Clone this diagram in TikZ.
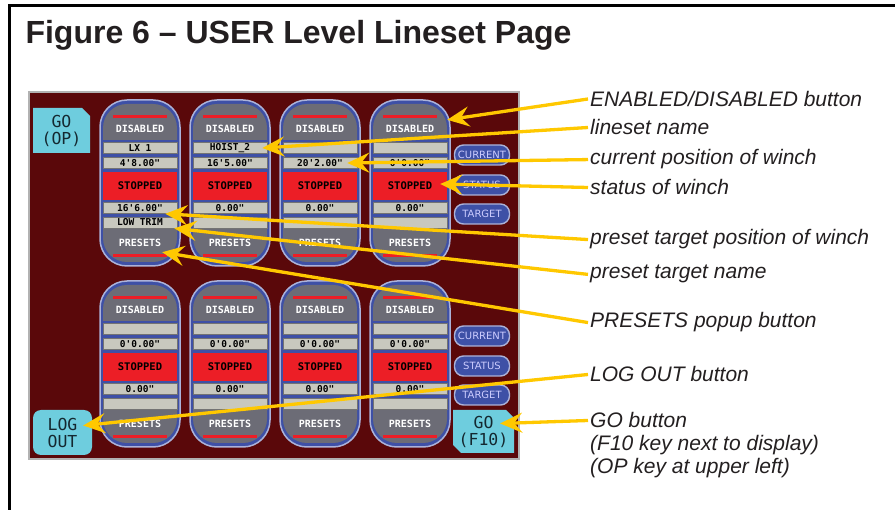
\documentclass[tikz,border=0pt]{standalone}
\usepackage{fontspec}
\setmainfont{Liberation Sans}
\newfontfamily\pixfont{DejaVu Sans Mono}
\newfontfamily\btnfont{DejaVu Sans}
\usetikzlibrary{arrows.meta}

\definecolor{scrbg}{RGB}{90,8,10}
\definecolor{pillblue}{RGB}{62,80,166}
\definecolor{pilledge}{RGB}{172,178,216}
\definecolor{btngrey}{RGB}{108,108,118}
\definecolor{fieldgrey}{RGB}{200,200,190}
\definecolor{stopred}{RGB}{236,30,38}
\definecolor{gocyan}{RGB}{110,205,222}
\definecolor{gotext}{RGB}{20,40,48}
\definecolor{ylw}{RGB}{255,200,0}
\definecolor{inktext}{RGB}{35,31,32}

\begin{document}
\begin{tikzpicture}[
    x=1pt,y=-1pt,
    pill/.style={draw=pilledge, line width=1.5pt, fill=pillblue, rounded corners=27pt},
    redbar/.style={draw=stopred, line width=3pt},
    btntxt/.style={
        minimum width=74pt, minimum height=18pt, inner sep=0pt,
        text=white,
        font=\pixfont\bfseries\fontsize{10}{10}\selectfont,
    },
    field/.style={
        draw=black!55, line width=0.6pt, fill=fieldgrey,
        minimum width=74pt, minimum height=11pt, inner sep=0pt,
        font=\pixfont\bfseries\fontsize{9.5}{10}\selectfont,
    },
    stopbox/.style={
        fill=stopred,
        minimum width=74pt, minimum height=28pt, inner sep=0pt,
        font=\pixfont\bfseries\fontsize{10.5}{11}\selectfont,
    },
    smallbtn/.style={
        draw=pilledge, line width=1.4pt, fill=pillblue, rounded corners=9pt,
        minimum width=55pt, minimum height=20pt, inner sep=0pt,
        text=white!80!blue, font=\btnfont\fontsize{10}{10}\selectfont,
    },
    gotxt/.style={
        minimum width=57pt, minimum height=45pt, inner sep=0pt,
        align=center, text=gotext,
        font=\pixfont\fontsize{16.5}{17}\selectfont,
    },
    lbl/.style={anchor=base west, inner sep=2pt, text=inktext,
        font=\itshape\fontsize{21}{24}\selectfont},
    yarrow/.style={draw=ylw, line width=3.3pt,
        -{Stealth[length=22pt,width=20pt,inset=8pt]}},
]

\useasboundingbox (0,0) rectangle (895,510);

% one lineset module: id, x, y (top of pill), name, current, target, target name
\def\module#1#2#3#4#5#6#7{%
  \begin{scope}[shift={(#2,#3)}]
    \draw[pill] (-40,0) rectangle (40,166);
    \begin{scope}
      \clip (-40,0) rectangle (40,40);
      \fill[btngrey,rounded corners=24pt] (-37,4) rectangle (37,162);
    \end{scope}
    \begin{scope}
      \clip (-40,130) rectangle (40,166);
      \fill[btngrey,rounded corners=24pt] (-37,4) rectangle (37,162);
    \end{scope}
    \draw[redbar] (-27,17) -- (27,17);
    \draw[redbar] (-27,156) -- (27,156);
    \node[btntxt] (dis#1) at (0,29) {DISABLED};
    \node[field] (name#1) at (0,48) {#4};
    \node[field] (cur#1) at (0,63) {#5};
    \node[stopbox] (stat#1) at (0,86) {STOPPED};
    \node[field] (tgt#1) at (0,108) {#6};
    \node[field] (tname#1) at (0,122.5) {#7};
    \node[btntxt] (pre#1) at (0,143) {PRESETS};
  \end{scope}}

% frame and title
\draw[line width=3pt] (9,510) -- (9,6) -- (895,6);
\node[anchor=base west, font=\bfseries\fontsize{32}{36}\selectfont, text=inktext]
    (title) at (22,44) {Figure 6 – USER Level Lineset Page};

% touch screen
\draw[fill=scrbg, draw=gray!60, line width=1.2pt] (29,92) rectangle (519,459);

\module{11}{140}{100}{LX 1}{4'8.00"}{16'6.00"}{LOW TRIM}
\module{12}{230}{100}{HOIST\_2}{16'5.00"}{0.00"}{}
\module{13}{320}{100}{}{20'2.00"}{0.00"}{}
\module{14}{410}{100}{}{0'0.00"}{0.00"}{}
\module{21}{140}{281}{}{0'0.00"}{0.00"}{}
\module{22}{230}{281}{}{0'0.00"}{0.00"}{}
\module{23}{320}{281}{}{0'0.00"}{0.00"}{}
\module{24}{410}{281}{}{0'0.00"}{0.00"}{}

\node[smallbtn] (cur1) at (482,155) {CURRENT};
\node[smallbtn] (stat1) at (482,185) {STATUS};
\node[smallbtn] (tgt1) at (482,214) {TARGET};
\node[smallbtn] (cur2) at (482,336) {CURRENT};
\node[smallbtn] (stat2) at (482,366) {STATUS};
\node[smallbtn] (tgt2) at (482,395) {TARGET};

% GO and LOG OUT keys
\fill[gocyan] (33,108) -- (82,108) -- (90,116) -- (90,153) -- (33,153) -- cycle;
\node[gotxt] (goOP) at (61.5,130.5) {GO\\(OP)};
\fill[gocyan] (453,410) -- (506,410) -- (514,418) -- (514,453) -- (461,453) -- (453,445) -- cycle;
\node[gotxt, minimum width=61pt, minimum height=43pt] (goF) at (483.5,431.5) {GO\\(F10)};
\fill[gocyan, rounded corners=8pt] (33,410) rectangle (92,455);
\node[gotxt, minimum width=59pt] (logout) at (62.5,432.5) {LOG\\OUT};

% annotations
\node[lbl] (lblEna) at (588,106.5) {ENABLED/DISABLED button};
\node[lbl] (lblName) at (588,135) {lineset name};
\node[lbl] (lblCur) at (588,165) {current position of winch};
\node[lbl] (lblStat) at (588,195) {status of winch};
\node[lbl] (lblTgt) at (588,245) {preset target position of winch};
\node[lbl] (lblTname) at (588,279) {preset target name};
\node[lbl] (lblPre) at (588,328) {PRESETS popup button};
\node[lbl] (lblLog) at (588,382) {LOG OUT button};
\node[lbl] (lblGo) at (588,428) {GO button};
\node[lbl] (lblGoKey) at (588,451) {(F10 key next to display)};
\node[lbl] (lblGoOp) at (588,474) {(OP key at upper left)};

\draw[yarrow] (lblEna.west) -- (dis14.north east);
\draw[yarrow] (lblName.west) -- ([xshift=-5pt]name12.east);
\draw[yarrow] (lblCur.west) -- ([xshift=-10pt]cur13.east);
\draw[yarrow] (lblStat.west) -- ([xshift=-7pt,yshift=2pt]stat14.east);
\draw[yarrow] (lblTgt.west) -- ([xshift=-12pt]tgt11.south east);
\draw[yarrow] (lblTname.west) -- ([xshift=-3pt]tname11.south east);
\draw[yarrow] (lblPre.west) -- ([xshift=-15pt]pre11.south east);
\draw[yarrow] (lblLog.west) -- ([xshift=-9pt,yshift=7pt]logout.east);
\draw[yarrow] (lblGo.west) -- ([xshift=-14pt,yshift=8pt]goF.east);

\end{tikzpicture}
\end{document}
